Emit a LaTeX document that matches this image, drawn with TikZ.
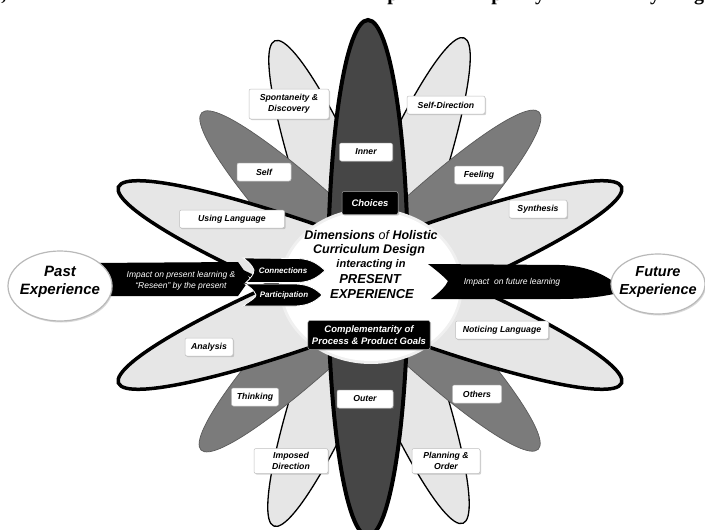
\documentclass[tikz,border=0pt]{standalone}
\usepackage{fontspec}
\setmainfont{Liberation Sans}
\newfontfamily\titlefont{Liberation Serif}
\usetikzlibrary{shadows}
\definecolor{lightpetal}{HTML}{E6E6E6}
\definecolor{graypetal}{HTML}{7B7B7B}
\definecolor{darkpetal}{HTML}{464646}
\definecolor{grayedge}{HTML}{5A5A5A}
\begin{document}
\begin{tikzpicture}[x=1pt,y=-1pt,
  lbl/.style={draw=gray!50, line width=0.5pt, fill=white, rounded corners=2pt,
    font=\fontsize{8.7}{10.5}\selectfont\bfseries\itshape, align=center,
    minimum height=18pt, inner xsep=4pt, inner ysep=2pt,
    drop shadow={shadow xshift=1.2pt, shadow yshift=-1.2pt, opacity=0.35}},
  blk/.style={lbl, fill=black, draw=gray!70, text=white,
    font=\fontsize{9.5}{11.5}\selectfont\bfseries\itshape},
  thinpetal/.style={fill=lightpetal, draw=black, line width=1.3pt},
  thickpetal/.style={fill=lightpetal, draw=black, line width=3.5pt},
  midpetal/.style={fill=graypetal, draw=grayedge, line width=0.7pt},
  darkpetalst/.style={fill=darkpetal, draw=black, line width=4pt},
  bandst/.style={fill=black},
  smallarrow/.style={fill=black, draw=white, line width=0.8pt},
  expst/.style={draw=gray!55, line width=1.2pt, fill=white,
    drop shadow={shadow xshift=1pt, shadow yshift=-1.5pt, opacity=0.3}},
  exptext/.style={font=\bfseries\itshape, align=center},
  ctr/.style={font=\bfseries\itshape},
  arrtext/.style={text=white, font=\fontsize{8.5}{11}\selectfont\itshape, align=center},
  smalltext/.style={text=white, font=\fontsize{8}{10}\selectfont\bfseries\itshape},
  frag/.style={anchor=base, inner sep=0pt, font=\titlefont\bfseries\fontsize{20}{22}\selectfont}
]
\useasboundingbox (0,0) rectangle (705,530);
\fill[white] (0,0) rectangle (705,530);
% cut-off title line at the top
\node[frag] (f1) at (4,1) {,};
\node[frag] (f2) at (393,1) {p};
\node[frag] (f3) at (497,1) {p};
\node[frag] (f4) at (540,1) {y};
\node[frag] (f5) at (655,1) {y};
\node[frag] (f6) at (699,1) {g};
% petals
\draw[thinpetal, rotate around={111.3:(369,282)}] (369,282) ellipse (259 and 37);
\draw[thinpetal, rotate around={68.7:(369,282)}] (369,282) ellipse (262 and 37);
\draw[midpetal, rotate around={135:(370,281)}] (370,281) ellipse (238 and 36);
\draw[midpetal, rotate around={45:(370,281)}] (370,281) ellipse (239 and 36);
\draw[thickpetal, rotate around={158.7:(370,285)}] (370,285) ellipse (270 and 38);
\draw[thickpetal, rotate around={21.3:(370,285)}] (370,285) ellipse (270 and 38);
\draw[darkpetalst] (368,278) ellipse (40 and 258);
% central disc
\fill[gray!12] (371,286) ellipse (92 and 78);
\fill[white] (371,286) ellipse (89 and 75);
% left band and arrows
\fill[bandst] (90,263) -- (238,262) -- (250,279) -- (238,296) -- (90,296) -- cycle;
\draw[smallarrow] (243,258) -- (298,258.5) .. controls (312,259) and (319,265) .. (325,270.5)
  .. controls (319,276) and (312,282) .. (298,282.5) -- (246,282.5)
  .. controls (251,278) and (254,274) .. (254,270) .. controls (252,265) and (248,261) .. cycle;
\draw[smallarrow] (245,284) -- (296,284) .. controls (310,284.5) and (317,290) .. (322,295)
  .. controls (317,300) and (310,305.5) .. (296,306) -- (243,306)
  .. controls (250,301) and (256,298) .. (256,295) .. controls (254,290) and (250,287) .. cycle;
\node[smalltext] (conn) at (283,270.5) {Connections};
\node[smalltext] (part) at (284,295) {Participation};
\node[arrtext] (pastimp) at (181,281) {Impact on present learning \&\\\char"201C Reseen\char"201D{} by the present};
% past / future
\draw[expst] (60,286) ellipse (52 and 35);
\node[exptext, font=\fontsize{15}{18}\selectfont\bfseries\itshape] (past) at (60,282) {Past\\Experience};
\fill[bandst] (428,264) -- (560,265) .. controls (595,266) and (612,280) .. (626,291)
  .. controls (608,296) and (588,299) .. (560,299) -- (431,299)
  .. controls (440,292) and (446,286) .. (448,281) .. controls (442,275) and (436,270) .. cycle;
\node[arrtext] (futimp) at (512,282) {Impact\ \ on future learning};
\draw[expst] (658,284) ellipse (47 and 30);
\node[exptext, font=\fontsize{14.5}{18}\selectfont\bfseries\itshape] (future) at (658,282) {Future\\Experience};
% centre title
\node[ctr, font=\fontsize{12.5}{14}\selectfont\bfseries\itshape] (t1) at (371,235) {Dimensions {\mdseries of} Holistic};
\node[ctr, font=\fontsize{12.5}{14}\selectfont\bfseries\itshape] (t2) at (369,250) {Curriculum Design};
\node[ctr, font=\fontsize{11}{13}\selectfont\bfseries\itshape] (t3) at (371,265) {interacting in};
\node[ctr, font=\fontsize{13}{15}\selectfont\bfseries\itshape] (t4) at (370,279) {PRESENT};
\node[ctr, font=\fontsize{13}{15}\selectfont\bfseries\itshape] (t5) at (372,294) {EXPERIENCE};
% labels
\node[lbl, minimum width=80pt, minimum height=30pt] (sdisc) at (289,104) {Spontaneity \&\\Discovery};
\node[lbl, minimum width=78pt] (sdir) at (446,105) {Self-Direction};
\node[lbl, minimum width=53pt] (inner) at (366,152) {Inner};
\node[lbl, minimum width=54pt] (self) at (264,172) {Self};
\node[lbl, minimum width=49pt] (feel) at (479,175) {Feeling};
\node[blk, minimum width=56pt, minimum height=23pt] (choices) at (370,203) {Choices};
\node[lbl, minimum width=105pt] (using) at (232,219) {Using Language};
\node[lbl, minimum width=58pt] (synth) at (538,209) {Synthesis};
\node[lbl, minimum width=93pt] (notice) at (502,330) {Noticing Language};
\node[blk, minimum width=122pt, minimum height=29pt] (compl) at (369,335) {Complementarity of\\Process \& Product Goals};
\node[lbl, minimum width=48pt] (anal) at (209,347) {Analysis};
\node[lbl, minimum width=47pt] (think) at (255,397) {Thinking};
\node[lbl, minimum width=56pt] (outer) at (365,399) {Outer};
\node[lbl, minimum width=49pt] (others) at (477,394) {Others};
\node[lbl, minimum width=74pt, minimum height=25pt] (imposed) at (291,461) {Imposed\\Direction};
\node[lbl, minimum width=68pt, minimum height=25pt] (plan) at (446,461) {Planning \&\\Order};
\end{tikzpicture}
\end{document}
